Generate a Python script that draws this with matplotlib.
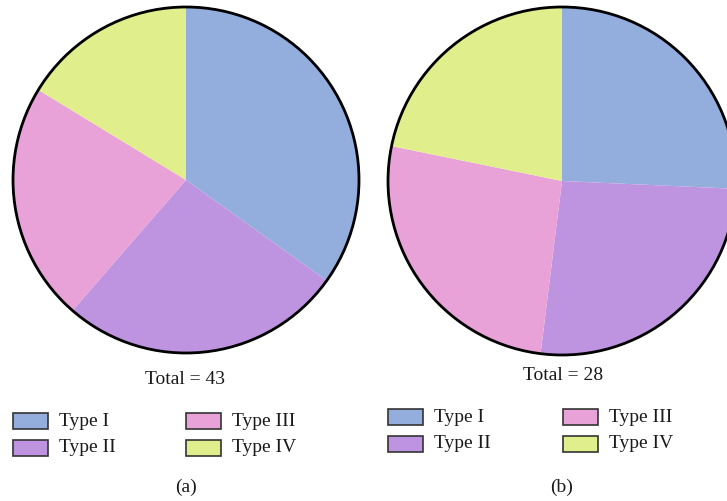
import matplotlib
matplotlib.use("Agg")
import matplotlib.pyplot as plt
from matplotlib.patches import Circle, Rectangle

# Data
categories = ["Type I", "Type II", "Type III", "Type IV"]
values_a = [15, 11.4, 9.6, 7]
values_b = [7.2, 7.35, 7.35, 6.1]
total_labels = ["Total = 43", "Total = 28"]
panel_labels = ["(a)", "(b)"]
colors = ["#93AEDC", "#BE94E1", "#E8A2D8", "#E0EF8B"]

W, H = 727, 501
fig = plt.figure(figsize=(W / 100, H / 100), dpi=100)
ax = fig.add_axes([0, 0, 1, 1])

def Y(y):
    return H - y

FONT = dict(family="Liberation Serif", fontsize=14, color="#1a1a1a")

panels = [
    dict(vals=values_a, cx=186, cy=180, r=173, total_xy=(185, 380),
         leg_x=(13, 186), leg_y=(413, 440), lab_xy=(186, 487)),
    dict(vals=values_b, cx=562, cy=181, r=174, total_xy=(563, 376),
         leg_x=(388, 563), leg_y=(409, 436), lab_xy=(562, 487)),
]

for i, p in enumerate(panels):
    ax.pie(p["vals"], colors=colors, startangle=90, counterclock=False,
           center=(p["cx"], Y(p["cy"])), radius=p["r"],
           wedgeprops=dict(linewidth=0))
    ax.add_patch(Circle((p["cx"], Y(p["cy"])), p["r"], fill=False,
                        ec="black", lw=2.0, zorder=5))
    ax.text(p["total_xy"][0], Y(p["total_xy"][1]), total_labels[i],
            ha="center", va="center", **FONT)
    # legend: 2 columns x 2 rows
    for k, cat in enumerate(categories):
        col = k // 2
        row = k % 2
        x0 = p["leg_x"][col]
        y0 = p["leg_y"][row]
        ax.add_patch(Rectangle((x0, Y(y0 + 16)), 35, 16, facecolor=colors[k],
                               edgecolor="#333333", lw=1.2, zorder=5))
        ax.text(x0 + 46, Y(y0 + 8), cat, ha="left", va="center", **FONT)
    ax.text(p["lab_xy"][0], Y(p["lab_xy"][1]), panel_labels[i],
            ha="center", va="center", **FONT)

ax.set_xlim(0, W)
ax.set_ylim(0, H)
ax.set_aspect("auto")
ax.axis("off")

fig.savefig("out.png", dpi=100)
